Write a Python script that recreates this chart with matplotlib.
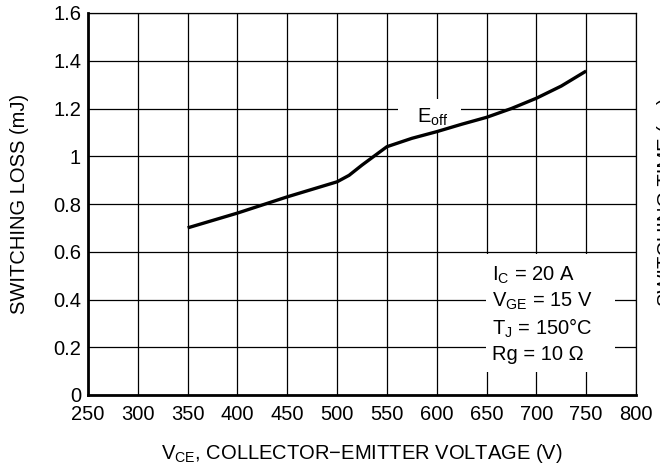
import matplotlib
matplotlib.use("Agg")
import matplotlib.pyplot as plt

plt.rcParams['font.family'] = ['Liberation Sans', 'DejaVu Sans']
plt.rcParams['mathtext.fontset'] = 'custom'
plt.rcParams['mathtext.rm'] = 'Liberation Sans'

# Data
vce = [350, 400, 450, 500, 512, 525, 550, 575, 600, 625, 650, 675, 700, 725, 750]
eoff = [0.70, 0.762, 0.83, 0.893, 0.92, 0.963, 1.04, 1.075, 1.103, 1.134, 1.163, 1.20, 1.243, 1.294, 1.357]

x_ticks = [250, 300, 350, 400, 450, 500, 550, 600, 650, 700, 750, 800]
y_ticks = [0, 0.2, 0.4, 0.6, 0.8, 1.0, 1.2, 1.4, 1.6]
y_tick_labels = ['0', '0.2', '0.4', '0.6', '0.8', '1', '1.2', '1.4', '1.6']
cond_lines = [r'I$_\mathregular{C}$ = 20 A', r'V$_\mathregular{GE}$ = 15 V',
              r'T$_\mathregular{J}$ = 150°C', r'Rg = 10 Ω']

FS = 14.5

fig = plt.figure(figsize=(6.6, 4.68), dpi=100)
ax = fig.add_axes([88/660, 1-395/468, (636-88)/660, (395-13)/468])

ax.set_xlim(250, 800)
ax.set_ylim(0, 1.6)
ax.set_xticks(x_ticks)
ax.set_yticks(y_ticks)
ax.set_yticklabels(y_tick_labels)
ax.tick_params(length=0, labelsize=FS)
ax.tick_params(axis='y', pad=5)
ax.tick_params(axis='x', pad=7.5)
ax.grid(True, color='black', linewidth=0.9)
ax.set_axisbelow(True)
for s in ['left', 'bottom']:
    ax.spines[s].set_linewidth(2.0)
for s in ['top', 'right']:
    ax.spines[s].set_linewidth(0.9)

ax.plot(vce, eoff, color='black', linewidth=2.4, solid_capstyle='butt', zorder=3)

# Eoff label with white background
ax.add_patch(plt.Rectangle((561, 1.11), 63, 0.13, facecolor='white', edgecolor='none', zorder=2))
ax.text(596, 1.162, r'E$_\mathregular{off}$', fontsize=FS, ha='center', va='center', zorder=4)

# Conditions box
ax.add_patch(plt.Rectangle((649, 0.098), 130, 0.492, facecolor='white', edgecolor='none', zorder=2))
for i, t in enumerate(cond_lines):
    ax.text(655, 0.503 - i * 0.111, t, fontsize=FS, ha='left', va='center', zorder=4)

ax.set_xlabel(r'V$_\mathregular{CE}$, COLLECTOR−EMITTER VOLTAGE (V)', fontsize=FS, labelpad=13)
ax.set_ylabel('SWITCHING LOSS (mJ)', fontsize=FS, labelpad=17)

fig.text(657/660, 1-97/468, 'SWITCHING TIME (ns)', rotation=90, fontsize=FS,
         ha='left', va='top')

fig.savefig('out.png', dpi=100)
